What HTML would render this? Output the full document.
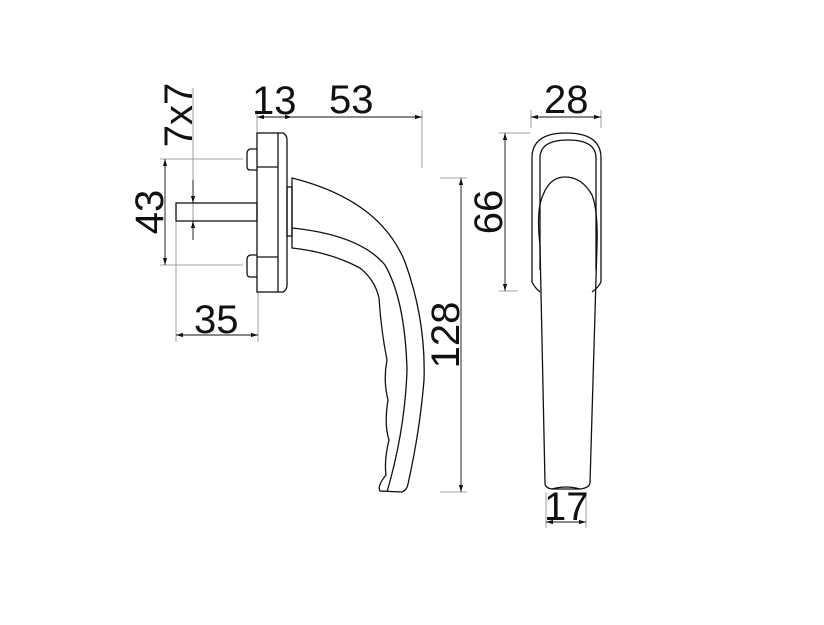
<!DOCTYPE html>
<html><head><style>body{margin:0;background:#fff}svg{display:block}text{font-family:"Liberation Sans",sans-serif;font-size:40px;fill:#111}</style></head><body>
<svg width="824" height="625" viewBox="0 0 824 625" xmlns="http://www.w3.org/2000/svg">
<defs><marker id="a" viewBox="0 0 10 10" refX="10" refY="5" markerWidth="8" markerHeight="8" orient="auto-start-reverse"><path d="M0,2 L10,5 L0,8z" fill="#111"/></marker></defs>
<g fill="none" stroke="#888" stroke-width="0.8">
<line x1="422" y1="110" x2="422" y2="168"/>
<line x1="160" y1="159" x2="243" y2="159"/>
<line x1="160" y1="265" x2="243" y2="265"/>
<line x1="176" y1="222" x2="176" y2="342"/>
<line x1="258" y1="292" x2="258" y2="342"/>
<line x1="193" y1="88" x2="193" y2="236"/>
<line x1="257" y1="110" x2="257" y2="133"/>
<line x1="440" y1="178" x2="467" y2="178"/>
<line x1="440" y1="492" x2="467" y2="492"/>
<line x1="499" y1="133" x2="530" y2="133"/>
<line x1="499" y1="291" x2="518" y2="291"/>
<line x1="531" y1="110" x2="531" y2="128"/>
<line x1="601" y1="110" x2="601" y2="128"/>
<line x1="546" y1="492" x2="546" y2="528"/>
<line x1="586" y1="492" x2="586" y2="528"/>
</g>
<g stroke="#111" stroke-width="0.9" fill="none">
<line x1="257" y1="117" x2="292" y2="117" marker-start="url(#a)" marker-end="url(#a)"/>
<line x1="292" y1="117" x2="422" y2="117" marker-end="url(#a)"/>
<line x1="165" y1="159" x2="165" y2="265" marker-start="url(#a)" marker-end="url(#a)"/>
<line x1="193" y1="180" x2="193" y2="203" marker-end="url(#a)"/>
<line x1="193" y1="240" x2="193" y2="221" marker-end="url(#a)"/>
<line x1="176" y1="335" x2="258" y2="335" marker-start="url(#a)" marker-end="url(#a)"/>
<line x1="461" y1="178" x2="461" y2="492" marker-start="url(#a)" marker-end="url(#a)"/>
<line x1="531" y1="117" x2="601" y2="117" marker-start="url(#a)" marker-end="url(#a)"/>
<line x1="505" y1="133" x2="505" y2="291" marker-start="url(#a)" marker-end="url(#a)"/>
<line x1="546" y1="522" x2="586" y2="522" marker-start="url(#a)" marker-end="url(#a)"/>
</g>
<g stroke="#111" stroke-width="1.3" fill="none">
<rect x="257" y="133" width="21" height="159"/>
<path d="M278,133 L283,133 Q287,135 287,140 L287,285 Q287,290 283,292 L278,292"/>
<line x1="257" y1="167" x2="278" y2="167"/><line x1="257" y1="257" x2="278" y2="257"/>
<path d="M257,149 L250,149 Q247,150 247,154 L247,166 Q247,170 250,170 L257,170"/>
<path d="M257,255 L250,255 Q247,256 247,260 L247,273 Q247,277 250,277 L257,277"/>
<rect x="176" y="203" width="81" height="18"/>
<rect x="287" y="187" width="5" height="49"/>
<path d="M292,178 L292,248 Q330,252 360,268 Q375,280 379,298 Q381,330 387,360 Q383,380 388,400 Q384,425 389,440 Q384,460 386,475 Q377,486 380,491 L402,492 Q407,490 408,484 Q420,430 424,380 Q426,320 405,262 Q380,200 292,178Z"/>
<path d="M292,228 Q360,235 385,265 Q405,300 407,370 Q405,430 387,492"/>
<path d="M532,282 L532,158 Q532,133 566,133 Q601,133 601,158 L601,282 Q598,288 592,292"/>
<path d="M532,282 Q535,288 540,292"/>
<path d="M540,270 L540,158 Q540,140 568,140 Q596,140 596,158 L596,270"/>
<path d="M565,177 Q582,177 592,195 Q598,210 597,245 L590,483 Q589,488 580,489 L552,489 Q545,488 545,483 L540,245 Q536,210 543,195 Q550,177 565,177Z"/>
<path d="M552,489 Q566,485 580,489"/>
</g>
<text x="252" y="114">13</text>
<text x="329" y="113">53</text>
<text x="544" y="113">28</text>
<text x="194" y="333">35</text>
<text x="544" y="520">17</text>
<text transform="translate(163,212) rotate(-90)" text-anchor="middle">43</text>
<text transform="translate(192,115) rotate(-90)" text-anchor="middle">7x7</text>
<text transform="translate(502,212) rotate(-90)" text-anchor="middle">66</text>
<text transform="translate(459,335) rotate(-90)" text-anchor="middle">128</text>
</svg>
</body></html>
